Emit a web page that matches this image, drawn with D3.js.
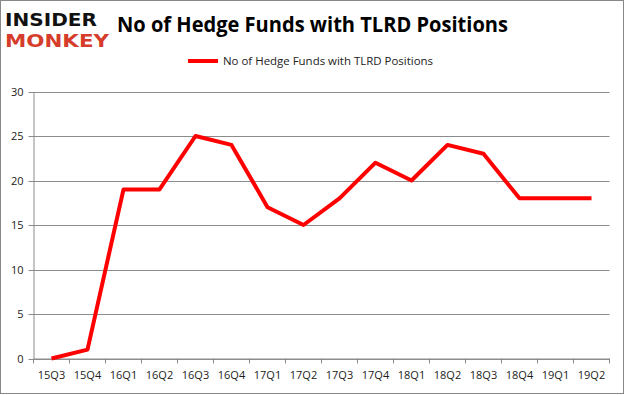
<!DOCTYPE html>
<html><head><meta charset="utf-8">
<script src="https://cdn.jsdelivr.net/npm/d3@7"></script>
<style>body{margin:0;background:#fff;}svg{display:block;font-family:"Open Sans","Liberation Sans",sans-serif;}</style>
</head><body><svg id="c" width="625" height="395"></svg>
<script>
const categories = ["15Q3","15Q4","16Q1","16Q2","16Q3","16Q4","17Q1","17Q2","17Q3","17Q4","18Q1","18Q2","18Q3","18Q4","19Q1","19Q2"];
const values = [0,1,19,19,25,24,17,15,18,22,20,24,23,18,18,18];
const yTicks = [0,5,10,15,20,25,30];
const seriesName = "No of Hedge Funds with TLRD Positions";
const title = "No of Hedge Funds with TLRD Positions";

const svg = d3.select("#c");
svg.append("rect").attr("x",0.5).attr("y",0.5).attr("width",623).attr("height",393)
  .attr("fill","#fff").attr("stroke","#888");

const L=33.5, R=609.5, T=91.5, B=358.5;
const x = d3.scaleBand().domain(categories).range([L,R]);
const y = d3.scaleLinear().domain([0,30]).range([B,T]);

// gridlines
svg.append("g").selectAll("line").data(yTicks).join("line")
  .attr("x1",L-5).attr("x2",R).attr("y1",d=>Math.round(y(d))+0.5).attr("y2",d=>Math.round(y(d))+0.5)
  .attr("stroke","#8c8c8c").attr("stroke-width",1);

// y axis
const ya = svg.append("g").attr("transform",`translate(${L},0)`)
  .call(d3.axisLeft(y).tickValues(yTicks).tickSize(0).tickPadding(10));
ya.select(".domain").attr("stroke","#8c8c8c");
ya.selectAll("text").attr("font-size",11).attr("fill","#222").attr("font-family","Open Sans, Liberation Sans, sans-serif");

// x axis
const xa = svg.append("g").attr("transform",`translate(0,${B})`)
  .call(d3.axisBottom(x).tickSize(0).tickPadding(13));
xa.select(".domain").attr("stroke","#8c8c8c");
xa.selectAll("text").attr("font-size",11).attr("fill","#222").attr("font-family","Open Sans, Liberation Sans, sans-serif");
const bounds = categories.map(c=>x(c)).concat([R]);
svg.append("g").selectAll("line").data(bounds).join("line")
  .attr("x1",d=>d).attr("x2",d=>d).attr("y1",B).attr("y2",B+5).attr("stroke","#8c8c8c");

// line
const line = d3.line().x((d,i)=>x(categories[i])+x.bandwidth()/2).y(d=>y(d));
svg.append("path").datum(values).attr("d",line).attr("fill","none")
  .attr("stroke","#ff0000").attr("stroke-width",4).attr("stroke-linejoin","round");

// legend
svg.append("line").attr("x1",188).attr("x2",218).attr("y1",61).attr("y2",61)
  .attr("stroke","#ff0000").attr("stroke-width",4);
svg.append("text").attr("x",223).attr("y",65).attr("font-size",11).attr("fill","#222")
  .attr("textLength",210).attr("lengthAdjust","spacingAndGlyphs").text(seriesName);

// title
svg.append("text").attr("x",117).attr("y",32).attr("font-size",21).attr("font-weight","bold")
  .attr("fill","#000").attr("textLength",391).attr("lengthAdjust","spacingAndGlyphs").text(title);

// logo
svg.append("text").attr("x",5).attr("y",26).attr("font-size",18).attr("font-weight","900")
  .attr("font-family","DejaVu Sans, sans-serif").attr("fill","#111")
  .attr("textLength",92).attr("lengthAdjust","spacingAndGlyphs").text("INSIDER");
svg.append("text").attr("x",5).attr("y",47).attr("font-size",18).attr("font-weight","900")
  .attr("font-family","DejaVu Sans, sans-serif").attr("fill","#d63c2a")
  .attr("textLength",104).attr("lengthAdjust","spacingAndGlyphs").text("MONKEY");
</script></body></html>
